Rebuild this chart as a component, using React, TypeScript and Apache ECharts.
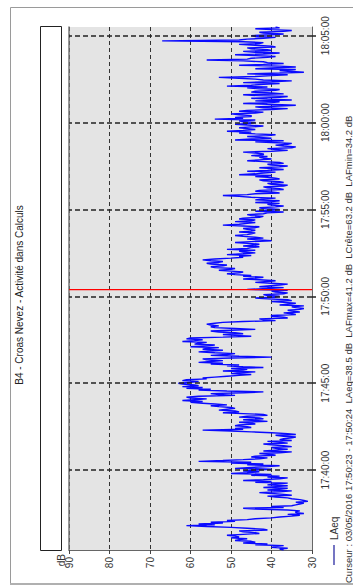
import React, { useEffect, useRef } from 'react';
import * as echarts from 'echarts';

const TITLE = 'B4 - Croas Nevez - Activité dans Calculs';
const CURSOR_TEXT = 'Curseur : 03/05/2016 17:50:23 - 17:50:24  LAeq=38.5 dB  LAFmax=41.2 dB  LCrête=63.2 dB  LAFmin=34.2 dB';
const SERIES_NAME = 'LAeq';
const UNIT = 'dB';

// time in seconds since midnight
const startSec = 63324; // 17:35:24
const endSec = 65130; // 18:05:30
const stepSec = 3;
const cursorSec = 64223; // 17:50:23
const timeTicks = [63600, 63900, 64200, 64500, 64800, 65100];
const dbMin = 30;
const dbMax = 90;
const dbStep = 10;

// LAeq values (dB), one every 3 s from 17:35:24
const seg1 = [37, 38, 36, 40, 39, 37, 44, 41, 47, 44, 45, 49, 48, 46, 50, 48, 49, 51, 47, 43, 44, 47, 48, 41, 42, 46, 50, 56, 61, 54, 58, 52, 55, 49, 51, 46, 44, 40, 38, 35, 33, 36, 32, 34, 34, 33, 36, 44, 47, 37, 40, 35, 34, 33, 32, 34, 31, 32, 33, 35, 36, 39, 41, 35, 37, 40, 43, 38, 35, 41, 38, 36, 42, 39, 36, 41, 39, 36, 44, 40, 47, 42, 38, 36, 41, 38, 45, 40, 50, 46, 43, 47];
const seg2 = [44, 40, 49, 45, 41, 38, 46, 42, 50, 45, 58, 52, 47, 43, 41, 45, 44, 39, 40, 43, 38, 35, 42, 39, 36, 39, 40, 35, 37, 40, 42, 36, 38, 41, 35, 38, 37, 35, 34, 37, 39, 34, 36, 40, 45, 50, 57, 47, 49, 45, 46, 49, 48, 44, 45, 48, 41, 44, 47, 42, 43, 48, 46, 41, 42, 47, 52, 48, 49, 53, 51, 49, 50, 53, 55, 51, 54, 57, 60, 57, 62, 59, 56, 60, 61, 58, 49, 53, 55, 47, 42, 51, 58, 55, 61, 57, 62, 58, 59, 62];
const seg3 = [63, 60, 58, 62, 61, 56, 57, 54, 51, 48, 45, 50, 48, 44, 52, 47, 46, 50, 42, 47, 51, 48, 55, 52, 58, 55, 52, 56, 57, 50, 40, 48, 55, 51, 49, 54, 58, 55, 52, 57, 56, 53, 60, 56, 54, 59, 58, 56, 62, 59, 57, 61, 60, 52, 45, 49, 52, 47, 49, 53, 55, 50, 44, 49, 54, 55, 53, 55, 56, 54, 52, 47, 39, 42, 43, 36, 37, 40, 40, 34, 35, 37, 33, 35, 36, 33, 32, 34, 35, 32, 38, 36, 34, 37, 40, 35, 36, 41, 44, 39];
const seg4 = [38, 41, 42, 37, 36, 39, 40, 36, 46, 41, 37, 43, 41, 38, 36, 40, 44, 41, 39, 43, 47, 44, 42, 47, 45, 49, 51, 48, 47, 50, 53, 50, 49, 54, 55, 52, 51, 55, 56, 53, 52, 55, 57, 54, 50, 47, 48, 45, 51, 47, 44, 47, 48, 44, 51, 46, 45, 43, 47, 44, 43, 46, 49, 45, 40, 43, 46, 42, 44, 47, 49, 46, 45, 44, 48, 45, 44, 46, 47, 44, 43, 47, 52, 48, 46, 44, 49, 45, 44, 48, 47, 43, 42, 45, 46, 42, 41, 37, 44, 40];
const seg5 = [38, 42, 43, 39, 37, 40, 41, 38, 44, 40, 38, 44, 42, 39, 45, 48, 52, 46, 44, 38, 40, 44, 43, 37, 38, 41, 42, 37, 36, 40, 41, 37, 38, 42, 43, 38, 39, 41, 44, 40, 48, 44, 42, 39, 46, 41, 37, 40, 43, 38, 36, 40, 41, 37, 38, 42, 46, 43, 40, 42, 43, 41, 45, 42, 42, 44, 47, 40, 36, 39, 41, 35, 34, 37, 39, 36, 35, 40, 44, 37, 49, 45, 40, 43, 46, 41, 39, 44, 48, 45, 51, 47, 44, 46, 48, 45, 42, 46, 49, 45];
const seg6 = [44, 47, 48, 44, 54, 47, 49, 45, 45, 48, 50, 44, 42, 48, 46, 40, 36, 42, 44, 38, 34, 41, 47, 40, 38, 44, 35, 41, 45, 38, 36, 43, 47, 37, 40, 45, 44, 39, 38, 43, 46, 41, 51, 45, 42, 38, 47, 40, 35, 42, 44, 48, 53, 44, 40, 36, 46, 38, 32, 36, 38, 34, 44, 40, 34, 38, 48, 42, 37, 41, 42, 47, 56, 46, 45, 41, 39, 44, 49, 42, 38, 44, 47, 40, 41, 45, 46, 39, 40, 44, 48, 43, 42, 47, 67, 48, 46, 42, 39, 44, 45, 40, 37, 42, 43, 37, 35, 40, 44, 38, 39];
const laeq = [...seg1, ...seg2, ...seg3, ...seg4, ...seg5, ...seg6];

const FONT = '"Liberation Sans", Arial, sans-serif';

const pad = (n: number) => (n < 10 ? '0' + n : '' + n);
const fmtTime = (v: number) => {
  const h = Math.floor(v / 3600);
  const m = Math.floor((v % 3600) / 60);
  const s = Math.round(v % 60);
  return pad(h) + ':' + pad(m) + ':' + pad(s);
};

export default function App() {
  const ref = useRef<HTMLDivElement>(null);
  useEffect(() => {
    if (!ref.current) return;
    const chart = echarts.init(ref.current, undefined, { renderer: 'svg' });
    const data = laeq.map((v, i) => [v, startSec + i * stepSec]);
    chart.setOption({
      animation: false,
      backgroundColor: '#ffffff',
      grid: {
        left: 69,
        right: 41,
        top: 27,
        bottom: 37,
        show: true,
        backgroundColor: '#e4e4e4',
        borderWidth: 0,
      },
      xAxis: {
        type: 'value',
        min: dbMin,
        max: dbMax,
        interval: dbStep,
        inverse: true,
        position: 'bottom',
        axisLine: { show: true, onZero: false, lineStyle: { color: '#666', width: 1 } },
        axisTick: { show: true, length: 4, lineStyle: { color: '#444' } },
        axisLabel: { rotate: 90, margin: 7, fontSize: 10, color: '#333', fontFamily: FONT },
        splitLine: { show: true, lineStyle: { color: '#333', width: 1, type: [4, 3] } },
      },
      yAxis: [
        {
          type: 'value',
          min: startSec,
          max: endSec,
          position: 'right',
          axisLine: { show: true, onZero: false, lineStyle: { color: '#666', width: 1 } },
          axisTick: { show: true, length: 4, customValues: timeTicks, lineStyle: { color: '#222', width: 1.5 } },
          axisLabel: {
            customValues: timeTicks,
            rotate: 90,
            margin: 8,
            fontSize: 10,
            color: '#333',
            fontFamily: FONT,
            formatter: (v: number) => fmtTime(v),
          },
          splitLine: { show: false },
        },
        {
          type: 'value',
          min: startSec,
          max: endSec,
          position: 'left',
          axisLine: { show: true, onZero: false, lineStyle: { color: '#777', width: 1.5 } },
          axisTick: { show: false },
          axisLabel: { show: false },
          splitLine: { show: false },
        },
      ],
      series: [
        {
          name: SERIES_NAME,
          type: 'line',
          yAxisIndex: 0,
          data,
          showSymbol: false,
          symbol: 'none',
          z: 2,
          lineStyle: { color: '#0a0aff', width: 1.4 },
          markLine: {
            silent: true,
            symbol: 'none',
            animation: false,
            label: { show: false },
            lineStyle: { color: '#222', width: 1.5, type: [5, 3] },
            data: timeTicks.map((t) => ({ yAxis: t })),
          },
        },
        {
          name: 'cursor',
          type: 'line',
          yAxisIndex: 0,
          data: [[dbMin, cursorSec], [dbMax, cursorSec]],
          showSymbol: false,
          symbol: 'none',
          z: 5,
          lineStyle: { color: '#ff0000', width: 1.2 },
        },
      ],
      graphic: [
        {
          type: 'rect',
          z: -10,
          shape: { x: 10.5, y: 7.5, width: 360, height: 576 },
          style: { fill: 'none', stroke: '#9a9a9a', lineWidth: 1 },
        },
        {
          type: 'line',
          shape: { x1: 10, y1: 584, x2: 353, y2: 584 },
          style: { stroke: '#b0b0b0', lineWidth: 2 },
        },
        {
          type: 'rect',
          shape: { x: 40.5, y: 26.5, width: 21, height: 524 },
          style: { fill: '#ffffff', stroke: '#222', lineWidth: 1 },
        },
        {
          type: 'text',
          x: 19,
          y: 295,
          rotation: Math.PI / 2,
          style: { text: TITLE, fill: '#222', font: '10px ' + FONT, align: 'center', verticalAlign: 'middle' },
        },
        {
          type: 'text',
          x: 61,
          y: 554,
          rotation: Math.PI / 2,
          style: { text: UNIT, fill: '#333', font: '10px ' + FONT, align: 'right', verticalAlign: 'middle' },
        },
        {
          type: 'line',
          shape: { x1: 334, y1: 565, x2: 334, y2: 545 },
          style: { stroke: '#1a1a9a', lineWidth: 1.2 },
        },
        {
          type: 'text',
          x: 334,
          y: 540,
          rotation: Math.PI / 2,
          style: { text: SERIES_NAME, fill: '#333', font: '10px ' + FONT, align: 'left', verticalAlign: 'middle' },
        },
        {
          type: 'text',
          x: 348,
          y: 583,
          rotation: Math.PI / 2,
          style: { text: CURSOR_TEXT, fill: '#333', font: '9.5px ' + FONT, align: 'left', verticalAlign: 'middle' },
        },
      ],
    });
    return () => chart.dispose();
  }, []);
  return (
    <div
      ref={ref}
      style={{ position: 'fixed', left: 0, top: 0, width: 353, height: 587, background: '#fff' }}
    />
  );
}
